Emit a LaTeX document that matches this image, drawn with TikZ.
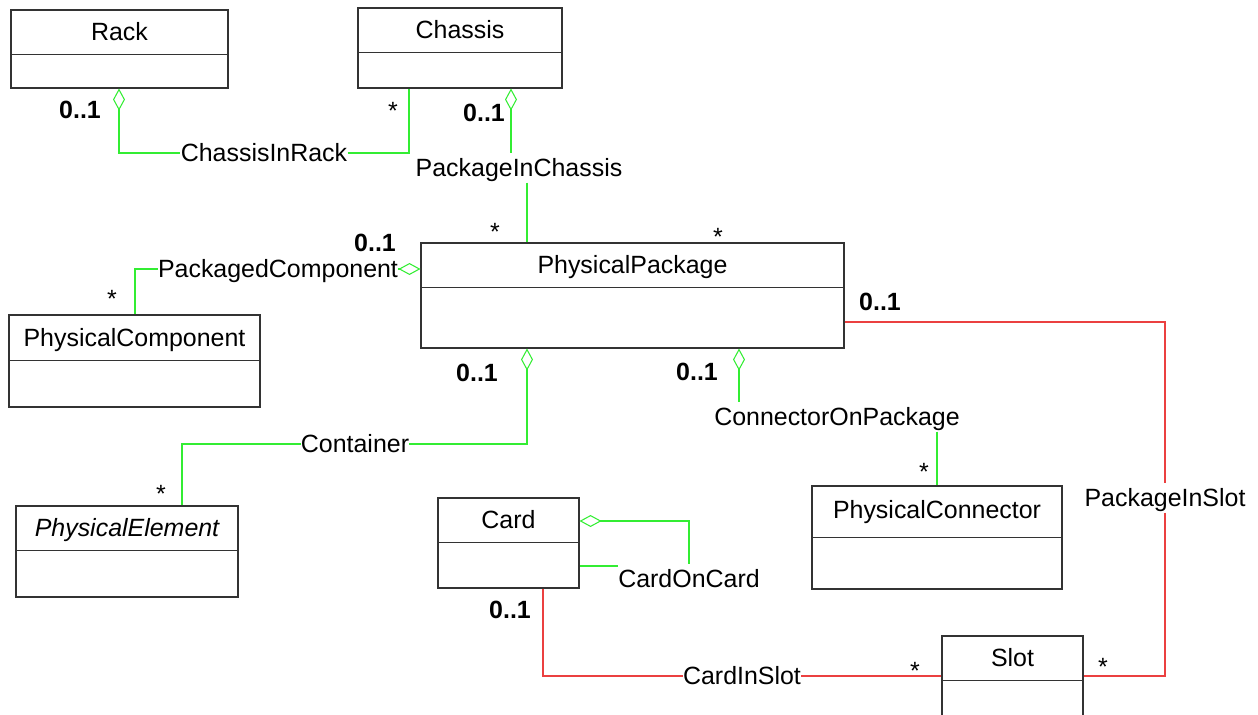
\documentclass[tikz,border=0pt]{standalone}
\usepackage{fontspec}
\setmainfont{Liberation Sans}
\usetikzlibrary{arrows.meta,calc,fit}
\definecolor{BoxClr}{rgb}{0.2,0.2,0.2}
\definecolor{AggrClr}{rgb}{0.2,0.93,0.2}
\definecolor{SlotClr}{rgb}{0.92,0.25,0.25}

\begin{document}
\begin{tikzpicture}[x=0.02cm,y=-0.02cm,
  classbox/.style={draw=BoxClr,line width=0.6pt,inner sep=0pt},
  divider/.style={draw=BoxClr,line width=0.6pt},
  classname/.style={inner sep=0pt,text height=10.2pt,text depth=0pt,font=\fontsize{14.2}{17}\selectfont},
  linkname/.style={fill=white,inner xsep=0pt,inner ysep=3pt,text height=10.2pt,text depth=0pt,font=\fontsize{14.2}{17}\selectfont},
  mult/.style={inner sep=0pt,text height=10.2pt,text depth=0pt,font=\fontsize{14.2}{17}\selectfont},
  multb/.style={mult,font=\fontsize{14.2}{17}\selectfont\bfseries},
  aggr/.style={draw=AggrClr,line width=0.6pt},
  slotlink/.style={draw=SlotClr,line width=0.6pt},
  hollow/.style={{Diamond[open,length=0.44cm,width=0.24cm]}-}]
\clip (0,0) rectangle (1258,714);

\node[classbox,fit={(11,10) (228,88)}] (rack) {};
\draw[divider] ($(rack.north west)+(0,45)$) -- ($(rack.north east)+(0,45)$);
\node[classname] (rack-t) at ($(rack.north)+(0,22.5)$) {Rack};

\node[classbox,fit={(358,8) (562,88)}] (chassis) {};
\draw[divider] ($(chassis.north west)+(0,45)$) -- ($(chassis.north east)+(0,45)$);
\node[classname] (chassis-t) at ($(chassis.north)+(0,22.5)$) {Chassis};

\node[classbox,fit={(421,243) (844,348)}] (pkg) {};
\draw[divider] ($(pkg.north west)+(0,45)$) -- ($(pkg.north east)+(0,45)$);
\node[classname] (pkg-t) at ($(pkg.north)+(0,22.5)$) {PhysicalPackage};

\node[classbox,fit={(9,315) (260,407)}] (comp) {};
\draw[divider] ($(comp.north west)+(0,46)$) -- ($(comp.north east)+(0,46)$);
\node[classname] (comp-t) at ($(comp.north)+(0,23)$) {PhysicalComponent};

\node[classbox,fit={(16,506) (238,597)}] (elem) {};
\draw[divider] ($(elem.north west)+(0,45)$) -- ($(elem.north east)+(0,45)$);
\node[classname,font=\fontsize{14.2}{17}\selectfont\itshape] (elem-t) at ($(elem.north)+(0,22.5)$) {PhysicalElement};

\node[classbox,fit={(438,498) (579,588)}] (card) {};
\draw[divider] ($(card.north west)+(0,45)$) -- ($(card.north east)+(0,45)$);
\node[classname] (card-t) at ($(card.north)+(0,22.5)$) {Card};

\node[classbox,fit={(812,486) (1062,589)}] (conn) {};
\draw[divider] ($(conn.north west)+(0,52)$) -- ($(conn.north east)+(0,52)$);
\node[classname] (conn-t) at ($(conn.north)+(0,24)$) {PhysicalConnector};

\node[classbox,fit={(942,636) (1083,740)}] (slot) {};
\draw[divider] ($(slot.north west)+(0,45)$) -- ($(slot.north east)+(0,45)$);
\node[classname] (slot-t) at ($(slot.north)+(0,22.5)$) {Slot};

\node[linkname] (cir) at (264,153) {ChassisInRack};
\node[linkname] (pic) at (519,168) {PackageInChassis};
\node[linkname] (pcl) at (278,269) {PackagedComponent};
\node[linkname] (cnt) at (355,444) {Container};
\node[linkname] (cop) at (837,417) {ConnectorOnPackage};
\node[linkname] (pis) at (1165,498) {PackageInSlot};
\node[linkname] (cis) at (742,676) {CardInSlot};
\node[linkname] (coc) at (689,579) {CardOnCard};

\draw[aggr,hollow] (rack.south -| 119,0) |- (cir.west);
\draw[aggr] (cir.east) -| (chassis.south -| 409,0);
\draw[aggr,hollow] (chassis.south -| 511,0) -- (pic.north -| 511,0);
\draw[aggr] (pic.south -| 527,0) -- (pkg.north -| 527,0);
\draw[aggr,hollow] (pkg.west |- 0,269) -- (pcl.east);
\draw[aggr] (pcl.west) -| (comp.north -| 135,0);
\draw[aggr,hollow] (pkg.south -| 527,0) |- (cnt.east);
\draw[aggr] (cnt.west) -| (elem.north -| 182,0);
\draw[aggr,hollow] (pkg.south -| 739,0) -- (cop.north -| 739,0);
\draw[aggr] (cop.south -| 937,0) -- (conn.north -| 937,0);
\draw[aggr,hollow] (card.east |- 0,521) -| (coc.north);
\draw[aggr] (coc.west |- 0,566) -- (card.east |- 0,566);
\draw[slotlink] (pkg.east |- 0,322) -| (pis.north);
\draw[slotlink] (pis.south) |- (slot.east |- 0,676);
\draw[slotlink] (card.south -| 543,0) |- (cis.west);
\draw[slotlink] (cis.east) -- (slot.west |- 0,676);

\node[multb] (m-rack) at (80,110) {0..1};
\node[mult] (m-chr) at (393,111) {*};
\node[multb] (m-chassis) at (484,113) {0..1};
\node[mult] (m-pic) at (495,232) {*};
\node[multb] (m-pcl) at (375,243) {0..1};
\node[mult] (m-top) at (718,237) {*};
\node[mult] (m-comp) at (112,299) {*};
\node[multb] (m-pis) at (880,302) {0..1};
\node[multb] (m-cnt) at (477,373) {0..1};
\node[multb] (m-cop) at (697,372) {0..1};
\node[mult] (m-conn) at (924,472) {*};
\node[mult] (m-elem) at (161,494) {*};
\node[multb] (m-card) at (510,610) {0..1};
\node[mult] (m-cis) at (915,671) {*};
\node[mult] (m-slot) at (1103,667) {*};

\end{tikzpicture}
\end{document}
